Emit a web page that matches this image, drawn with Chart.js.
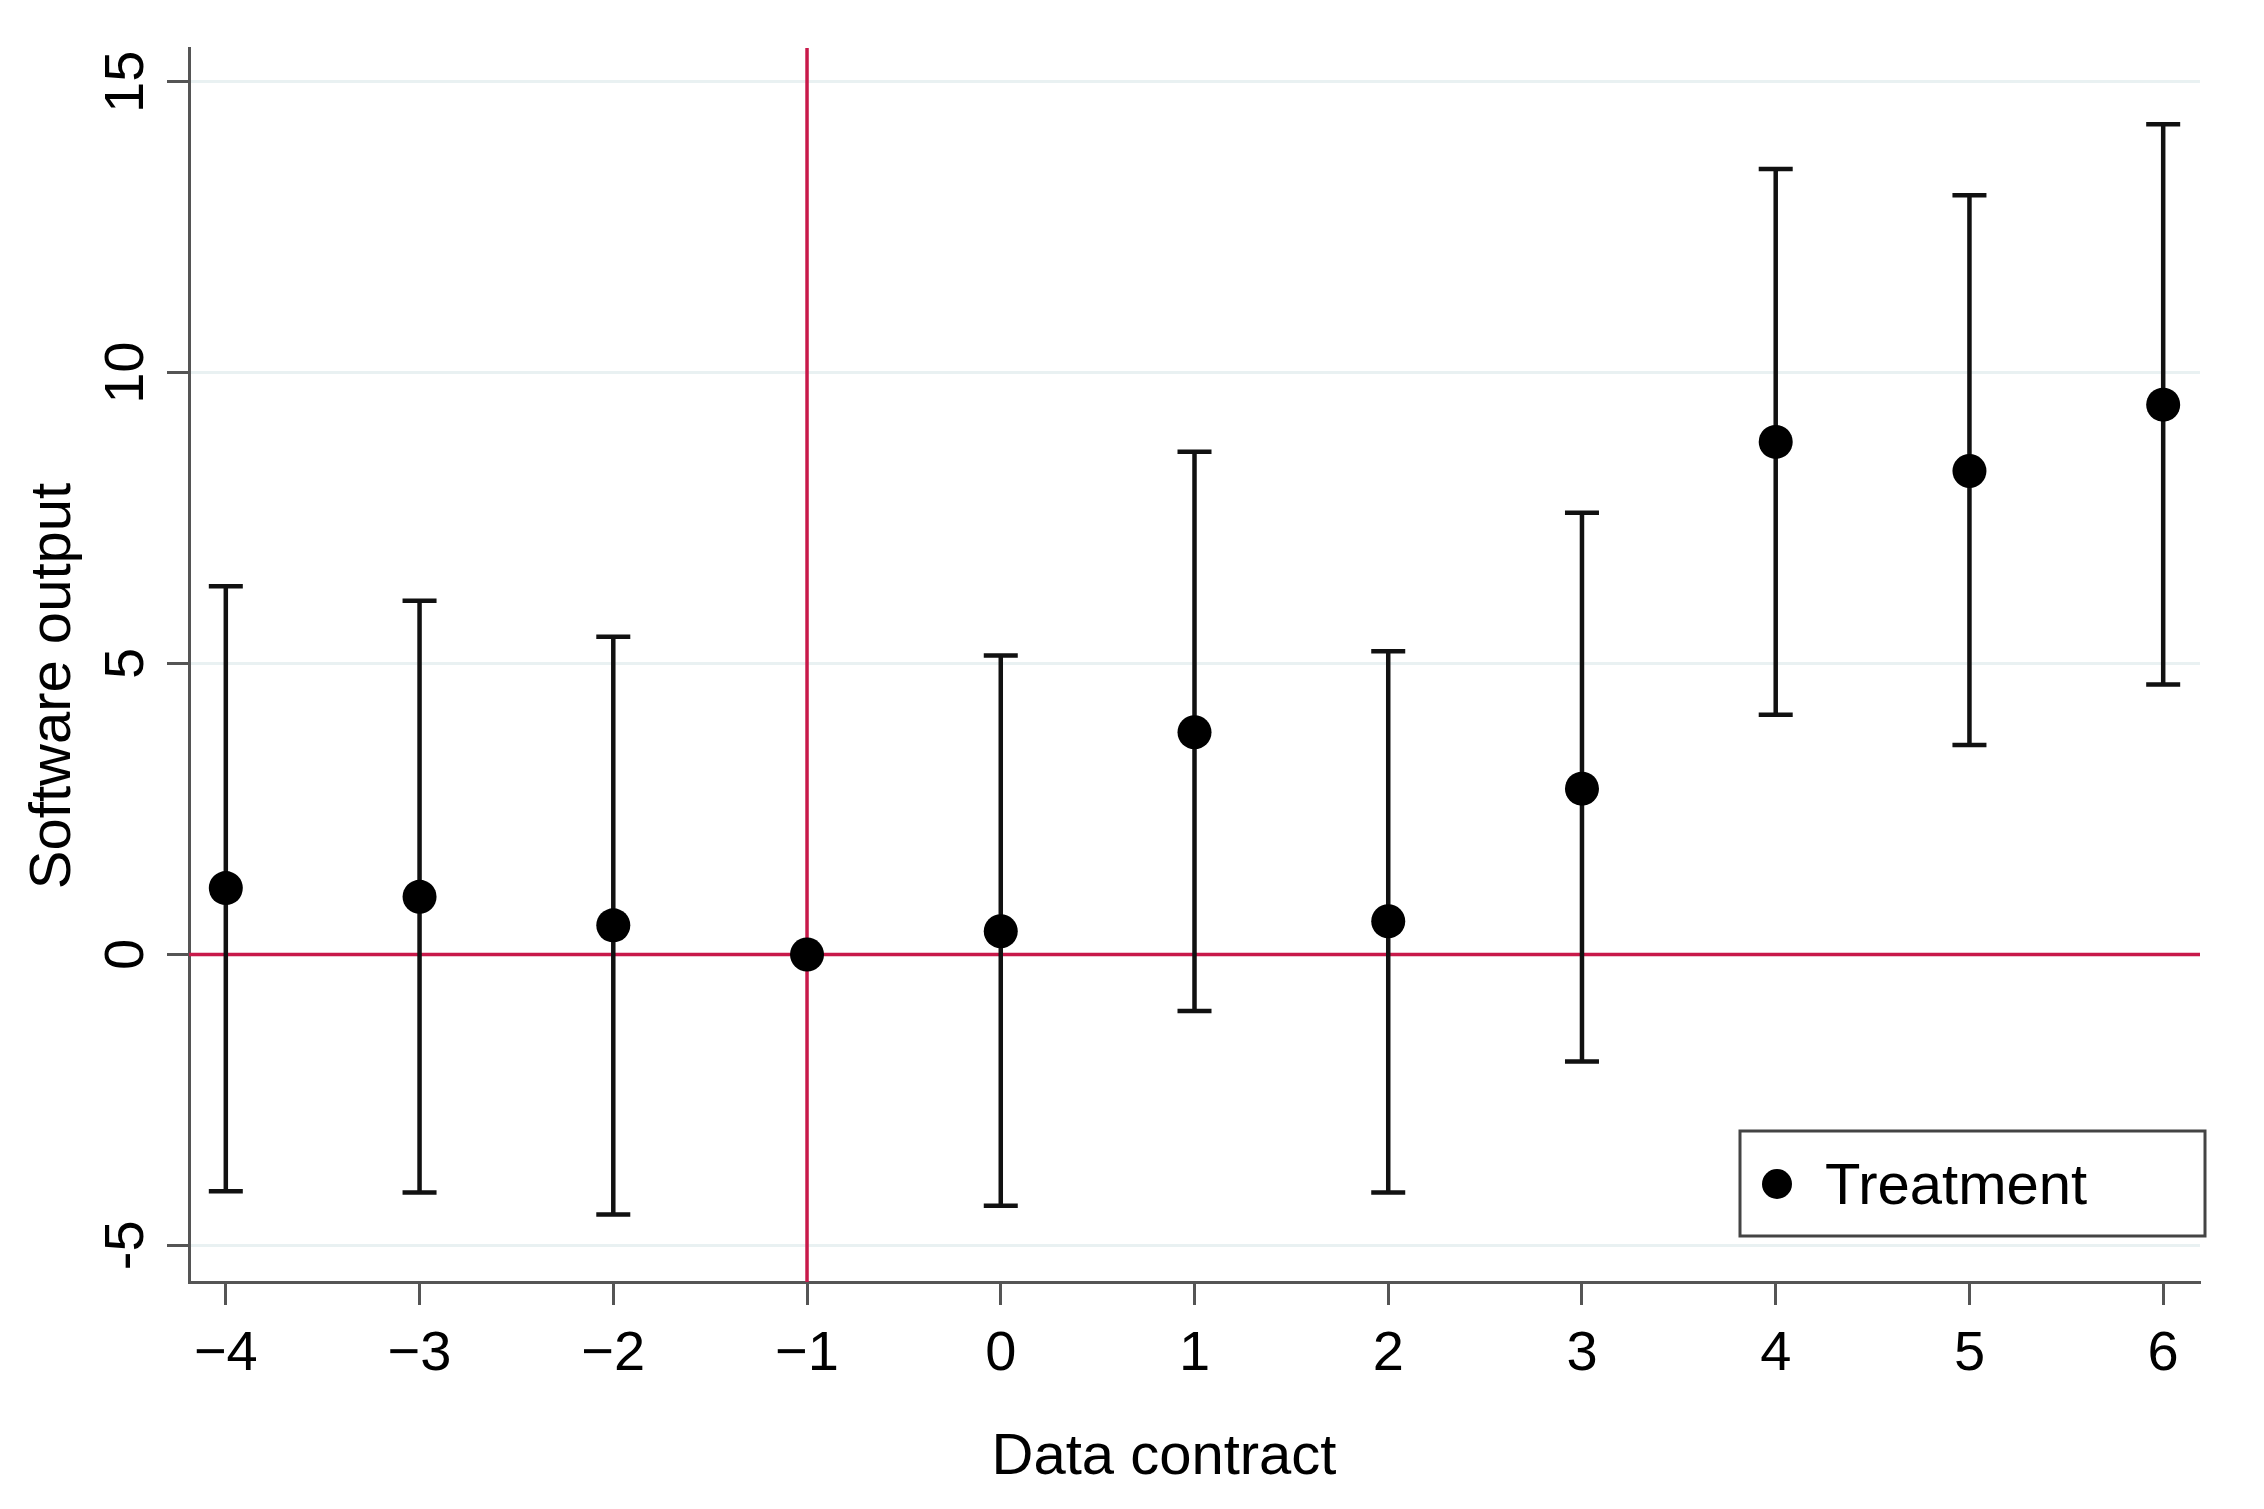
<!DOCTYPE html>
<html><head><meta charset="utf-8">
<script src="https://cdn.jsdelivr.net/npm/chart.js@4/dist/chart.umd.min.js"></script>
<style>html,body{margin:0;padding:0;background:#fff}#wrap{width:2264px;height:1509px}</style>
</head><body><div id="wrap"><canvas id="c" width="2264" height="1509"></canvas></div>
<script>
const categories = [-4, -3, -2, -1, 0, 1, 2, 3, 4, 5, 6];
const estimates  = [1.14, 0.99, 0.50, 0, 0.40, 3.82, 0.57, 2.85, 8.81, 8.31, 9.45];
const upperCI    = [6.33, 6.08, 5.46, null, 5.14, 8.64, 5.21, 7.59, 13.50, 13.05, 14.27];
const lowerCI    = [-4.07, -4.09, -4.47, null, -4.32, -0.97, -4.09, -1.84, 4.12, 3.60, 4.64];
const xTickValues = [-4, -3, -2, -1, 0, 1, 2, 3, 4, 5, 6];
const xTickLabels = ["\u22124", "\u22123", "\u22122", "\u22121", "0", "1", "2", "3", "4", "5", "6"];
const yTickValues = [-5, 0, 5, 10, 15];
const yTickLabels = ["-5", "0", "5", "10", "15"];
const seriesName = "Treatment";
const xTitle = "Data contract";
const yTitle = "Software output";
const refX = [-1];
const refY = [0];

const FAMILY = "'Liberation Sans', Arial, sans-serif";
const FS = 56;
const FT = 58;
const RED = '#c8194a';
const AXIS = '#555555';

const refLines = {
  id: 'refLines',
  beforeDatasetsDraw(chart) {
    const {ctx, chartArea: a, scales: {x, y}} = chart;
    ctx.save();
    ctx.strokeStyle = RED; ctx.lineWidth = 3.5;
    refY.forEach(v => { const py = y.getPixelForValue(v); ctx.beginPath(); ctx.moveTo(a.left, py); ctx.lineTo(a.right, py); ctx.stroke(); });
    refX.forEach(v => { const px = x.getPixelForValue(v); ctx.beginPath(); ctx.moveTo(px, a.top); ctx.lineTo(px, a.bottom); ctx.stroke(); });
    ctx.restore();
  }
};

const errorBars = {
  id: 'errorBars',
  beforeDatasetsDraw(chart) {
    const {ctx, scales: {x, y}} = chart;
    ctx.save();
    ctx.strokeStyle = '#111'; ctx.lineWidth = 4.5; ctx.lineCap = 'butt';
    const cap = 17;
    categories.forEach((c, i) => {
      if (upperCI[i] == null || lowerCI[i] == null) return;
      const px = x.getPixelForValue(c);
      const pu = y.getPixelForValue(upperCI[i]);
      const pl = y.getPixelForValue(lowerCI[i]);
      ctx.beginPath();
      ctx.moveTo(px, pu); ctx.lineTo(px, pl);
      ctx.moveTo(px - cap, pu); ctx.lineTo(px + cap, pu);
      ctx.moveTo(px - cap, pl); ctx.lineTo(px + cap, pl);
      ctx.stroke();
    });
    ctx.restore();
  }
};

const textLayer = {
  id: 'textLayer',
  afterDraw(chart) {
    const {ctx, scales: {y}} = chart;
    ctx.save();
    ctx.fillStyle = '#000';
    ctx.font = FS + 'px ' + FAMILY;
    ctx.textAlign = 'center'; ctx.textBaseline = 'middle';
    yTickValues.forEach((v, i) => {
      const py = y.getPixelForValue(v);
      ctx.save();
      ctx.translate(128, py);
      ctx.rotate(-Math.PI / 2);
      ctx.fillText(yTickLabels[i], 0, 0);
      ctx.restore();
    });
    ctx.font = FT + 'px ' + FAMILY;
    ctx.fillText(xTitle, 1164, 1458);
    ctx.save();
    ctx.translate(54, 686);
    ctx.rotate(-Math.PI / 2);
    ctx.fillText(yTitle, 0, 0);
    ctx.restore();
    ctx.restore();
  }
};

const legendBox = {
  id: 'legendBox',
  afterDraw(chart) {
    const {ctx} = chart;
    ctx.save();
    ctx.fillStyle = '#fff';
    ctx.fillRect(1740, 1131, 465, 105);
    ctx.strokeStyle = '#444'; ctx.lineWidth = 3;
    ctx.strokeRect(1740, 1131, 465, 105);
    ctx.fillStyle = '#000';
    ctx.beginPath(); ctx.arc(1777, 1184, 15, 0, Math.PI * 2); ctx.fill();
    ctx.font = FT + 'px ' + FAMILY;
    ctx.textAlign = 'left'; ctx.textBaseline = 'middle';
    ctx.fillText(seriesName, 1825, 1188);
    ctx.restore();
  }
};

new Chart(document.getElementById('c'), {
  type: 'scatter',
  data: {
    datasets: [{
      label: seriesName,
      data: categories.map((c, i) => ({x: c, y: estimates[i]})),
      pointRadius: 17,
      pointHoverRadius: 17,
      backgroundColor: '#000',
      borderColor: '#000',
      borderWidth: 0,
      showLine: false
    }]
  },
  options: {
    responsive: false,
    animation: false,
    devicePixelRatio: 1,
    events: [],
    layout: {padding: {top: 48, right: 64, left: 0, bottom: 0}},
    plugins: {legend: {display: false}, tooltip: {enabled: false}},
    scales: {
      x: {
        type: 'linear', min: -4.19, max: 6.19,
        afterBuildTicks: s => { s.ticks = xTickValues.map(v => ({value: v})); },
        afterFit: s => { s.height = 227; },
        grid: {drawOnChartArea: false, drawTicks: true, tickLength: 23, tickColor: AXIS, tickWidth: 3},
        border: {display: true, color: AXIS, width: 3},
        ticks: {
          padding: 16, color: '#000', font: {size: FS, family: FAMILY},
          maxRotation: 0, minRotation: 0, autoSkip: false,
          callback: v => { const k = xTickValues.indexOf(v); return k >= 0 ? xTickLabels[k] : ''; }
        },
        title: {display: false}
      },
      y: {
        type: 'linear', min: -5.63, max: 15.58,
        afterBuildTicks: s => { s.ticks = yTickValues.map(v => ({value: v})); },
        afterFit: s => { s.width = 189; },
        grid: {color: '#e9f1f2', lineWidth: 3, drawTicks: true, tickLength: 22, tickColor: AXIS, tickWidth: 3},
        border: {display: true, color: AXIS, width: 3},
        ticks: {display: false},
        title: {display: false}
      }
    }
  },
  plugins: [refLines, errorBars, textLayer, legendBox]
});
</script>
</body></html>
